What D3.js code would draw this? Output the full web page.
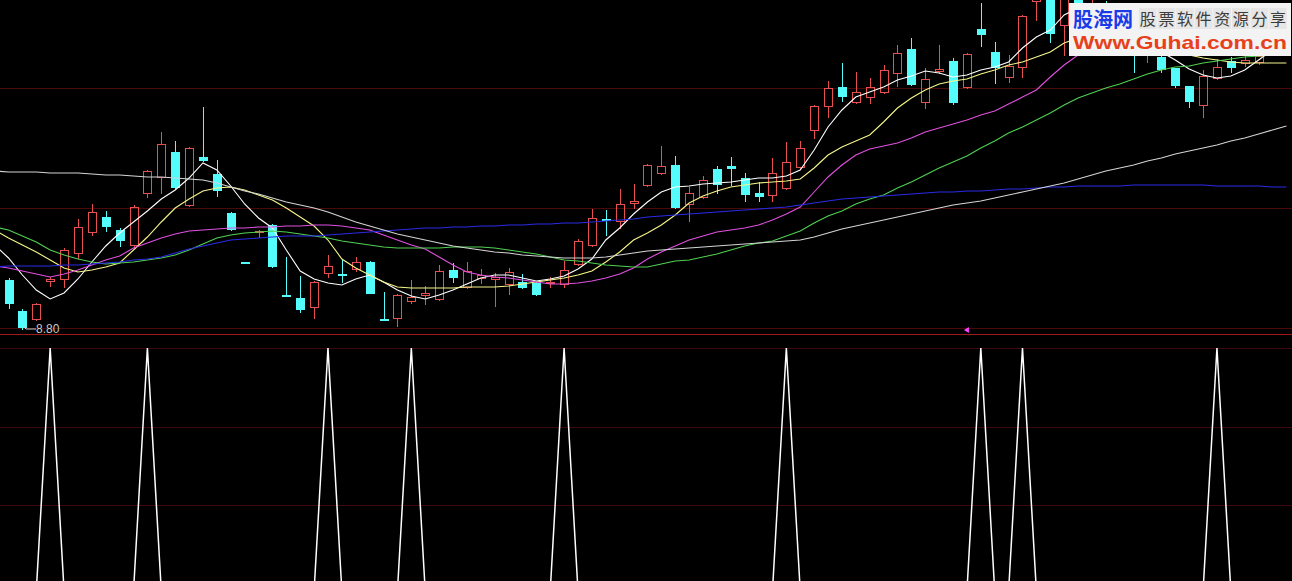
<!DOCTYPE html>
<html><head><meta charset="utf-8">
<script src="https://cdn.jsdelivr.net/npm/d3@7/dist/d3.min.js"></script>
<style>html,body{margin:0;padding:0;background:#000;overflow:hidden}svg{display:block}</style>
</head><body><svg id="c" width="1292" height="581"></svg>
<script>
// ---- data (one entry per trading day; first entry lies just off the left edge) ----
const opens = [9.47,9.29,8.98,8.90,9.28,9.30,9.56,9.77,9.92,9.79,9.64,10.16,10.32,10.57,10.04,10.52,10.35,9.96,9.47,9.77,9.84,9.14,9.11,9.02,9.36,9.35,9.40,9.47,8.90,8.91,9.08,9.14,9.10,9.39,9.22,9.31,9.30,9.25,9.27,9.26,9.26,9.25,9.45,9.64,9.90,9.88,10.06,10.24,10.36,10.44,10.05,10.12,10.40,10.43,10.31,10.16,10.14,10.21,10.42,10.79,11.03,11.22,11.07,11.12,11.17,11.36,11.60,11.07,11.38,11.48,11.22,11.80,11.57,11.32,11.42,12.08,12.10,11.84,12.10,11.85,12.03,11.82,11.70,11.58,11.52,11.41,11.23,11.04,11.31,11.48,11.46,11.47,11.55,11.72];
const highs = [9.51,9.31,9.00,9.06,9.32,9.61,9.90,10.05,9.98,9.81,10.04,10.39,10.77,10.68,10.62,11.02,10.49,9.97,9.47,9.79,9.85,9.52,9.33,9.28,9.54,9.49,9.52,9.48,9.17,9.15,9.29,9.23,9.44,9.46,9.47,9.40,9.36,9.41,9.35,9.27,9.32,9.48,9.70,10.00,9.99,10.20,10.25,10.45,10.63,10.53,10.22,10.33,10.43,10.52,10.36,10.27,10.51,10.67,10.68,11.04,11.28,11.46,11.37,11.31,11.44,11.64,11.71,11.41,11.64,11.51,11.56,12.06,11.67,11.54,11.94,12.24,12.12,12.17,12.15,12.10,12.08,11.90,11.75,11.78,11.57,11.41,11.23,11.39,11.50,11.52,11.54,11.57,11.80,11.95];
const lows = [9.27,9.01,8.80,8.89,9.23,9.22,9.51,9.74,9.78,9.63,9.63,10.12,10.16,10.21,10.03,10.48,10.13,9.79,9.46,9.72,9.42,9.13,8.97,8.91,9.32,9.27,9.38,9.16,8.89,8.83,9.06,9.05,9.09,9.27,9.21,9.26,9.03,9.15,9.21,9.14,9.22,9.22,9.44,9.63,9.74,9.81,10.01,10.23,10.35,10.01,9.88,10.11,10.16,10.24,10.08,10.08,10.08,10.20,10.41,10.71,10.92,11.08,11.06,11.06,11.16,11.23,11.24,11.01,11.36,11.05,11.21,11.63,11.26,11.27,11.32,11.89,11.67,11.54,11.80,11.78,11.72,11.58,11.37,11.47,11.37,11.22,11.02,10.92,11.30,11.37,11.43,11.45,11.54,11.70];
const closes = [9.31,9.06,8.82,9.05,9.30,9.59,9.82,9.97,9.83,9.69,10.02,10.38,10.65,10.22,10.61,10.49,10.19,9.80,9.46,9.78,9.43,9.13,9.00,9.27,9.43,9.34,9.47,9.16,8.89,9.14,9.12,9.16,9.38,9.32,9.38,9.34,9.32,9.37,9.22,9.15,9.27,9.39,9.68,9.91,9.89,10.05,10.08,10.44,10.43,10.02,10.16,10.29,10.25,10.41,10.15,10.13,10.36,10.47,10.61,11.03,11.21,11.13,11.17,11.22,11.39,11.56,11.25,11.30,11.40,11.07,11.55,11.75,11.42,11.43,11.93,12.19,11.76,12.12,11.85,12.05,11.80,11.66,11.60,11.70,11.40,11.24,11.08,11.33,11.42,11.42,11.49,11.53,11.75,11.90];

const ma5 = [9.64,9.51,9.34,9.19,9.10,9.16,9.30,9.47,9.63,9.76,9.87,9.98,10.10,10.19,10.31,10.46,10.39,10.23,10.05,9.91,9.81,9.59,9.38,9.30,9.26,9.24,9.30,9.34,9.27,9.19,9.13,9.10,9.14,9.19,9.25,9.31,9.34,9.34,9.31,9.28,9.30,9.33,9.40,9.50,9.69,9.81,9.95,10.07,10.17,10.22,10.23,10.25,10.26,10.27,10.29,10.31,10.31,10.33,10.39,10.59,10.82,10.99,11.12,11.17,11.22,11.29,11.33,11.38,11.36,11.32,11.34,11.39,11.42,11.47,11.61,11.72,11.79,11.94,12.01,12.04,11.99,11.91,11.81,11.69,11.57,11.49,11.40,11.34,11.31,11.33,11.39,11.49,11.59,11.67];
const ma10 = [9.79,9.71,9.64,9.57,9.49,9.41,9.37,9.39,9.42,9.46,9.59,9.72,9.87,10.01,10.10,10.18,10.21,10.22,10.19,10.14,10.09,10.01,9.92,9.83,9.69,9.50,9.41,9.34,9.27,9.22,9.21,9.21,9.21,9.21,9.22,9.22,9.22,9.23,9.25,9.27,9.29,9.31,9.34,9.38,9.47,9.57,9.69,9.76,9.84,9.94,10.06,10.13,10.18,10.22,10.24,10.26,10.27,10.28,10.30,10.41,10.54,10.62,10.68,10.74,10.87,11.01,11.11,11.19,11.25,11.28,11.30,11.35,11.39,11.44,11.47,11.52,11.57,11.66,11.71,11.76,11.79,11.79,11.76,11.71,11.65,11.59,11.54,11.51,11.49,11.47,11.46,11.46,11.46,11.46];
const ma20 = [9.43,9.41,9.38,9.35,9.32,9.35,9.39,9.44,9.49,9.53,9.61,9.66,9.71,9.75,9.78,9.79,9.80,9.81,9.81,9.82,9.82,9.83,9.83,9.84,9.84,9.83,9.81,9.79,9.74,9.69,9.64,9.60,9.52,9.44,9.37,9.34,9.32,9.31,9.29,9.27,9.25,9.25,9.26,9.28,9.31,9.35,9.41,9.50,9.57,9.63,9.69,9.73,9.77,9.79,9.81,9.84,9.89,9.95,10.02,10.17,10.32,10.44,10.54,10.60,10.63,10.66,10.71,10.77,10.81,10.85,10.89,10.94,10.98,11.05,11.12,11.19,11.32,11.44,11.54,11.61,11.67,11.71,11.74,11.76,11.77,11.77,11.76,11.75,11.74,11.74,11.75,11.76,11.77,11.79];
const ma30 = [9.82,9.79,9.73,9.67,9.59,9.54,9.50,9.47,9.45,9.46,9.47,9.49,9.51,9.54,9.59,9.65,9.71,9.74,9.76,9.77,9.78,9.77,9.75,9.73,9.71,9.68,9.66,9.64,9.62,9.61,9.61,9.61,9.61,9.62,9.62,9.62,9.61,9.59,9.57,9.55,9.52,9.49,9.48,9.46,9.44,9.43,9.42,9.42,9.45,9.48,9.49,9.52,9.55,9.59,9.63,9.66,9.68,9.73,9.78,9.86,9.93,9.98,10.05,10.10,10.14,10.21,10.27,10.34,10.41,10.47,10.53,10.61,10.68,10.76,10.82,10.89,10.96,11.04,11.11,11.16,11.21,11.25,11.30,11.35,11.39,11.42,11.43,11.46,11.48,11.50,11.52,11.53,11.54,11.55];
const ma60 = [9.42,9.43,9.43,9.43,9.43,9.44,9.44,9.45,9.46,9.47,9.49,9.50,9.52,9.56,9.60,9.63,9.66,9.69,9.70,9.71,9.72,9.73,9.73,9.73,9.74,9.75,9.76,9.77,9.78,9.79,9.80,9.81,9.81,9.82,9.82,9.83,9.83,9.84,9.84,9.85,9.85,9.86,9.86,9.87,9.88,9.89,9.90,9.92,9.93,9.94,9.95,9.96,9.97,9.98,9.99,10.00,10.01,10.02,10.04,10.06,10.08,10.10,10.11,10.12,10.13,10.14,10.15,10.16,10.17,10.17,10.18,10.18,10.19,10.20,10.20,10.21,10.22,10.22,10.23,10.23,10.23,10.23,10.24,10.24,10.24,10.24,10.24,10.24,10.23,10.23,10.23,10.23,10.22,10.22];
const ma120 = [10.38,10.37,10.37,10.37,10.36,10.36,10.36,10.35,10.34,10.34,10.33,10.32,10.32,10.31,10.30,10.29,10.26,10.22,10.18,10.15,10.11,10.07,10.04,10.01,9.97,9.92,9.87,9.83,9.79,9.75,9.72,9.69,9.66,9.63,9.61,9.59,9.57,9.56,9.54,9.53,9.52,9.51,9.51,9.51,9.52,9.54,9.56,9.58,9.59,9.60,9.61,9.62,9.63,9.64,9.65,9.66,9.67,9.68,9.69,9.72,9.76,9.80,9.83,9.86,9.89,9.92,9.95,9.98,10.01,10.04,10.06,10.08,10.11,10.14,10.17,10.20,10.23,10.26,10.30,10.34,10.38,10.41,10.44,10.48,10.51,10.55,10.58,10.61,10.64,10.68,10.71,10.75,10.79,10.83];

const signal = [0,0,0,0,1,0,0,0,0,0,0,1,0,0,0,0,0,0,0,0,0,0,0,0,1,0,0,0,0,0,1,0,0,0,0,0,0,0,0,0,0,1,0,0,0,0,0,0,0,0,0,0,0,0,0,0,0,1,0,0,0,0,0,0,0,0,0,0,0,0,0,1,0,0,1,0,0,0,0,0,0,0,0,0,0,0,0,0,1,0,0,0,0,0];

const priceGrid = [11.21, 10.01, 8.81];
const signalGrid = [1, 0.675, 0.354];
const markerIndex = 70;
const maSeries = [
  {name:'MA5', values: ma5, color:'#ffffff'},
  {name:'MA10', values: ma10, color:'#f6f68a'},
  {name:'MA20', values: ma20, color:'#e050e0'},
  {name:'MA30', values: ma30, color:'#50d050'},
  {name:'MA60', values: ma60, color:'#2a2ae6'},
  {name:'MA120', values: ma120, color:'#d4d4d4'}
];

// ---- drawing ----
const W = 1292, H = 581;
const svg = d3.select('#c');
svg.append('rect').attr('width', W).attr('height', H).attr('fill', '#000');

const x = d3.scaleLinear().domain([0, opens.length - 1]).range([-5.39, 1286.4]);
const y = d3.scaleLinear().domain([8.80, 12.09]).range([329, 0]);
const ys = d3.scaleLinear().domain([0, 1]).range([591, 348]);

const defs = svg.append('defs');
defs.append('clipPath').attr('id', 'topclip').append('rect').attr('x', 0).attr('y', 0).attr('width', W).attr('height', 334);
defs.append('clipPath').attr('id', 'botclip').append('rect').attr('x', 0).attr('y', 336).attr('width', W).attr('height', H - 336);

// grid lines
const grid = svg.append('g').attr('shape-rendering', 'crispEdges');
grid.selectAll('line.pg').data(priceGrid).join('line').attr('class', 'pg')
  .attr('x1', 0).attr('x2', W)
  .attr('y1', d => Math.round(y(d)) + 0.5).attr('y2', d => Math.round(y(d)) + 0.5)
  .attr('stroke', '#4a0a0a');
grid.selectAll('line.sg').data(signalGrid).join('line').attr('class', 'sg')
  .attr('x1', 0).attr('x2', W)
  .attr('y1', d => Math.round(ys(d)) + 0.5).attr('y2', d => Math.round(ys(d)) + 0.5)
  .attr('stroke', '#400909');
grid.append('line').attr('x1', 0).attr('x2', W).attr('y1', 334.5).attr('y2', 334.5).attr('stroke', '#a01a1a');

// candles
const UP = '#e85050', DOWN = '#54fcfc';
const cg = svg.append('g').attr('clip-path', 'url(#topclip)').attr('shape-rendering', 'crispEdges');
const idx = d3.range(opens.length);
const candle = cg.selectAll('g.k').data(idx).join('g').attr('class', 'k');
candle.each(function(i) {
  const g = d3.select(this);
  const cx = Math.round(x(i));
  const o = Math.round(y(opens[i])), c = Math.round(y(closes[i]));
  const h = Math.round(y(highs[i])), l = Math.round(y(lows[i]));
  if (closes[i] >= opens[i]) {
    const top = c, bot = o;
    g.append('line').attr('x1', cx + 0.5).attr('x2', cx + 0.5).attr('y1', h).attr('y2', top).attr('stroke', UP);
    g.append('line').attr('x1', cx + 0.5).attr('x2', cx + 0.5).attr('y1', bot).attr('y2', l + 1).attr('stroke', UP);
    if (bot - top >= 1) {
      g.append('rect').attr('x', cx - 4 + 0.5).attr('y', top + 0.5).attr('width', 8).attr('height', bot - top)
        .attr('fill', 'none').attr('stroke', UP);
    } else {
      g.append('line').attr('x1', cx - 4).attr('x2', cx + 5).attr('y1', top + 0.5).attr('y2', top + 0.5).attr('stroke', UP);
    }
  } else {
    g.append('line').attr('x1', cx + 0.5).attr('x2', cx + 0.5).attr('y1', h).attr('y2', l + 1).attr('stroke', DOWN);
    g.append('rect').attr('x', cx - 4).attr('y', o).attr('width', 9).attr('height', Math.max(1, c - o + 1))
      .attr('fill', DOWN);
  }
});

// moving averages
const lineGen = d3.line().x((d, i) => x(i)).y(d => y(d));
const mg = svg.append('g').attr('clip-path', 'url(#topclip)');
mg.selectAll('path').data(maSeries).join('path')
  .attr('d', d => lineGen(d.values))
  .attr('fill', 'none').attr('stroke', d => d.color).attr('stroke-width', 1.1);

// lowest price annotation
const minIdx = d3.minIndex(lows);
const lx = Math.round(x(minIdx)), ly = Math.round(y(lows[minIdx]));
svg.append('path')
  .attr('d', `M${lx + 1},${ly - 3} L${lx + 4},${ly} L${lx + 14},${ly}`)
  .attr('fill', 'none').attr('stroke', '#c8c8c8').attr('stroke-width', 1);
svg.append('text').attr('x', lx + 14).attr('y', ly + 4)
  .attr('font-family', 'Liberation Sans, Arial, sans-serif').attr('font-size', 12)
  .attr('fill', '#c8c8c8').text(d3.format('.2f')(lows[minIdx]));

// magenta marker on the separator
const mx = x(markerIndex);
svg.append('path').attr('d', `M${mx - 3},330 L${mx + 2},327 L${mx + 2},333 Z`).attr('fill', '#ff40ff');

// signal panel
svg.append('path').attr('clip-path', 'url(#botclip)')
  .attr('d', d3.line().x((d, i) => x(i)).y(d => ys(d))(signal))
  .attr('fill', 'none').attr('stroke', '#ffffff').attr('stroke-width', 1.5);

// watermark
const wm = svg.append('g');
wm.append('rect').attr('x', 1069).attr('y', 3).attr('width', 222).attr('height', 53).attr('fill', '#f3f3f3');
wm.append('text').attr('x', 1073).attr('y', 27)
  .attr('font-family', 'Noto Sans CJK SC, sans-serif').attr('font-weight', 'bold').attr('font-size', 20)
  .attr('fill', '#1a3ce8').text('股海网');
const slogan = '股票软件资源分享'.split('');
wm.selectAll('rect.box').data(slogan).join('rect').attr('class', 'box')
  .attr('x', (d, i) => 1139 + i * 18.6).attr('y', 8).attr('width', 17.6).attr('height', 21)
  .attr('fill', '#e6e6e6');
wm.selectAll('text.s').data(slogan).join('text').attr('class', 's')
  .attr('x', (d, i) => 1139 + i * 18.6 + 8.8).attr('y', 25).attr('text-anchor', 'middle')
  .attr('font-family', 'Noto Sans CJK SC, sans-serif').attr('font-size', 16)
  .attr('fill', '#3c3c3c').text(d => d);
wm.append('text').attr('x', 1073).attr('y', 49)
  .attr('font-family', 'Liberation Sans, Arial, sans-serif').attr('font-weight', 'bold').attr('font-size', 19)
  .attr('textLength', 214).attr('lengthAdjust', 'spacingAndGlyphs')
  .attr('fill', '#e8401a').text('Www.Guhai.com.cn');
</script>
</body></html>
